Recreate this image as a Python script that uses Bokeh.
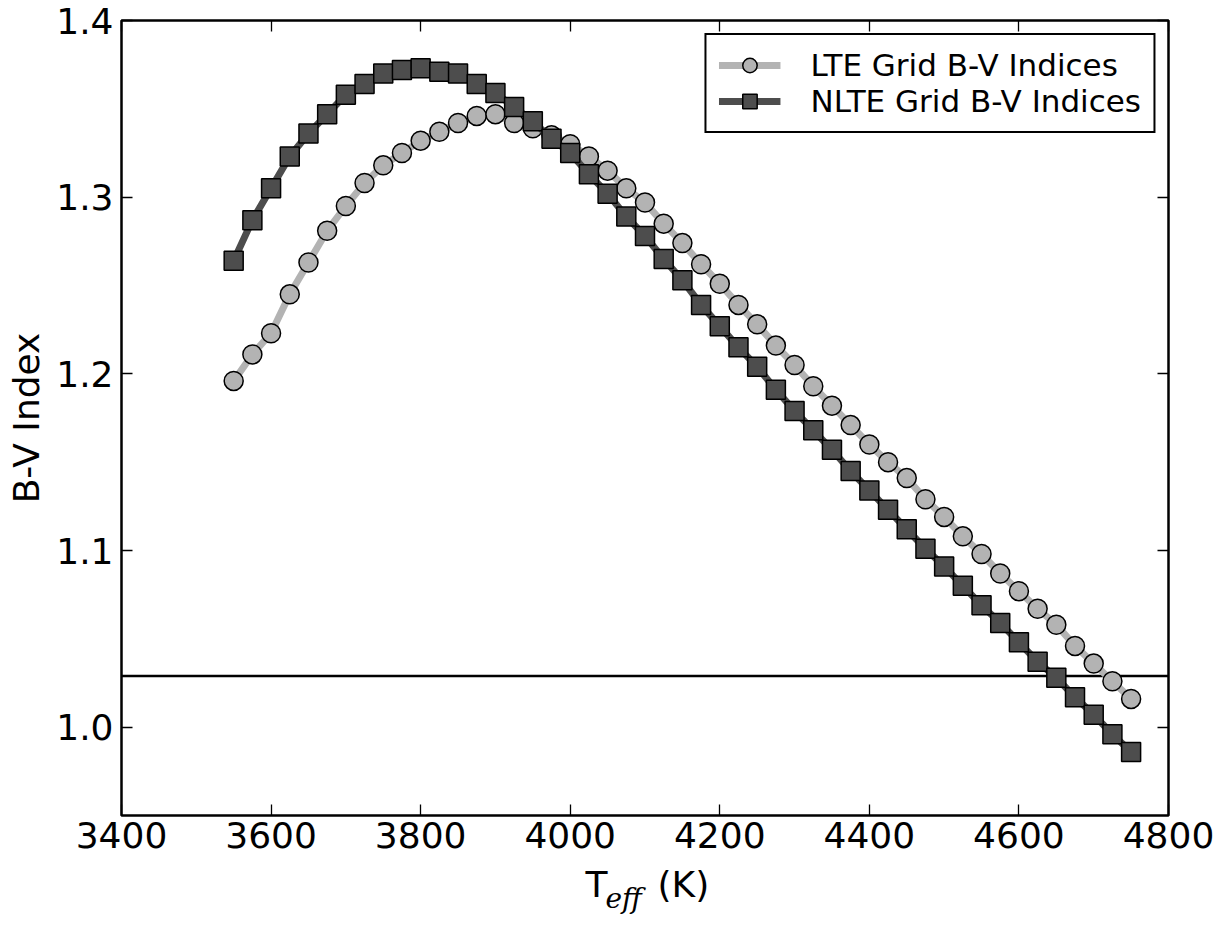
from bokeh.plotting import figure
from bokeh.layouts import column
from bokeh.models import (Range1d, FixedTicker, LinearAxis, Span, Legend, LegendItem,
                          Label, NumeralTickFormatter, CustomLabelingPolicy)
from bokeh.embed import file_html
from bokeh.resources import INLINE

# ---- data ----
teff = [3550, 3575, 3600, 3625, 3650, 3675, 3700, 3725, 3750, 3775,
        3800, 3825, 3850, 3875, 3900, 3925, 3950, 3975, 4000, 4025,
        4050, 4075, 4100, 4125, 4150, 4175, 4200, 4225, 4250, 4275,
        4300, 4325, 4350, 4375, 4400, 4425, 4450, 4475, 4500, 4525,
        4550, 4575, 4600, 4625, 4650, 4675, 4700, 4725, 4750]

lte_bv = [1.196, 1.211, 1.223, 1.245, 1.263, 1.281, 1.295, 1.308, 1.318, 1.325,
          1.332, 1.337, 1.342, 1.346, 1.347, 1.342, 1.339, 1.335, 1.330, 1.323,
          1.315, 1.305, 1.297, 1.285, 1.274, 1.262, 1.251, 1.239, 1.228, 1.216,
          1.205, 1.193, 1.182, 1.171, 1.160, 1.150, 1.141, 1.129, 1.119, 1.108,
          1.098, 1.087, 1.077, 1.067, 1.058, 1.046, 1.036, 1.026, 1.016]

nlte_bv = [1.264, 1.287, 1.305, 1.323, 1.336, 1.347, 1.358, 1.364, 1.370, 1.372,
           1.373, 1.371, 1.370, 1.364, 1.359, 1.351, 1.343, 1.333, 1.325, 1.313,
           1.302, 1.289, 1.278, 1.265, 1.253, 1.239, 1.227, 1.215, 1.204, 1.191,
           1.179, 1.168, 1.157, 1.145, 1.134, 1.123, 1.112, 1.101, 1.091, 1.080,
           1.069, 1.059, 1.048, 1.037, 1.028, 1.017, 1.007, 0.996, 0.986]

reference_bv = 1.029

x_ticks = [3400, 3600, 3800, 4000, 4200, 4400, 4600, 4800]
y_ticks = [1.0, 1.1, 1.2, 1.3, 1.4]

series_labels = ["LTE Grid B-V Indices", "NLTE Grid B-V Indices"]
y_title = "B-V Index"
x_title_parts = ["T", "eff", "(K)"]

# ---- main figure ----
FONT = "DejaVu Sans"
W = 1216
BORDER_L, BORDER_R = 121, 48
STRIP_H = 53
p = figure(width=W, height=916 - STRIP_H, output_backend="svg", toolbar_location=None,
           x_range=Range1d(3400, 4800), y_range=Range1d(0.95, 1.4),
           min_border_left=BORDER_L, min_border_right=BORDER_R, min_border_top=20,
           min_border_bottom=48, background_fill_color="white",
           border_fill_color="white")
p.xgrid.visible = False
p.ygrid.visible = False
p.outline_line_color = "black"
p.outline_line_width = 2.5
p.outline_line_alpha = 1.0

bottom_axis = p.below[0]
left_axis = p.left[0]
bottom_axis.ticker = FixedTicker(ticks=x_ticks)
left_axis.ticker = FixedTicker(ticks=y_ticks)
left_axis.formatter = NumeralTickFormatter(format="0.0")

no_labels = CustomLabelingPolicy(code="return new Set()")
top_axis = LinearAxis(ticker=FixedTicker(ticks=x_ticks), major_label_policy=no_labels)
right_axis = LinearAxis(ticker=FixedTicker(ticks=y_ticks), major_label_policy=no_labels)
p.add_layout(top_axis, "above")
p.add_layout(right_axis, "right")

for ax in [bottom_axis, left_axis, top_axis, right_axis]:
    ax.axis_line_color = None
    ax.major_tick_in = 11
    ax.major_tick_out = 0
    ax.major_tick_line_color = "black"
    ax.major_tick_line_width = 1.3
    ax.minor_tick_line_color = None
    ax.major_label_text_font = FONT
    ax.major_label_text_font_size = "36px"
    ax.major_label_text_color = "black"

for ax in [top_axis, right_axis]:
    ax.major_label_text_font_size = "0px"
    ax.major_label_standoff = 0
    ax.axis_label_standoff = 0

bottom_axis.major_label_standoff = 6
left_axis.major_label_standoff = 8
left_axis.axis_label = y_title
left_axis.axis_label_text_font = FONT
left_axis.axis_label_text_font_size = "36px"
left_axis.axis_label_text_font_style = "normal"
left_axis.axis_label_text_color = "black"
left_axis.axis_label_standoff = 6

# reference line (under the markers)
p.add_layout(Span(location=reference_bv, dimension="width", line_color="black",
                  line_width=2.5, level="underlay"))

# LTE series
l1 = p.line(teff, lte_bv, line_color="#b3b3b3", line_width=7)
s1 = p.scatter(teff, lte_bv, marker="circle", size=19, fill_color="#b3b3b3",
               line_color="black", line_width=1.5)
# NLTE series
l2 = p.line(teff, nlte_bv, line_color="#4d4d4d", line_width=7)
s2 = p.scatter(teff, nlte_bv, marker="square", size=19, fill_color="#4d4d4d",
               line_color="black", line_width=1.5)

legend = Legend(items=[LegendItem(label=series_labels[0], renderers=[l1, s1]),
                       LegendItem(label=series_labels[1], renderers=[l2, s2])],
                location="top_right")
legend.label_text_font = FONT
legend.label_text_font_size = "31px"
legend.label_text_color = "black"
legend.border_line_color = "black"
legend.border_line_width = 2
legend.border_line_alpha = 1.0
legend.background_fill_color = "white"
legend.background_fill_alpha = 1.0
legend.glyph_width = 62
legend.glyph_height = 36
legend.label_height = 36
legend.spacing = 0
legend.padding = 12
legend.label_standoff = 30
legend.margin = 13
p.add_layout(legend)

# ---- x-axis title strip: T_eff (K) with a subscript ----
p2 = figure(width=W, height=STRIP_H, output_backend="svg", toolbar_location=None,
            x_axis_location=None, y_axis_location=None,
            min_border_left=BORDER_L, min_border_right=BORDER_R,
            min_border_top=0, min_border_bottom=0,
            x_range=Range1d(0, 1), y_range=Range1d(0, 1),
            background_fill_color="white", border_fill_color="white")
p2.grid.visible = False
p2.outline_line_color = None
p2.add_layout(Label(x=464, y=STRIP_H, x_units="screen", y_units="screen",
                    text=x_title_parts[0], text_font=FONT, text_font_size="36px",
                    text_color="black", text_align="left", text_baseline="top"))
p2.add_layout(Label(x=484, y=STRIP_H - 18, x_units="screen", y_units="screen",
                    text=x_title_parts[1], text_font="DejaVu Serif",
                    text_font_style="italic", text_font_size="28px",
                    text_color="black", text_align="left", text_baseline="top"))
p2.add_layout(Label(x=536, y=STRIP_H, x_units="screen", y_units="screen",
                    text=x_title_parts[2], text_font=FONT, text_font_size="36px",
                    text_color="black", text_align="left", text_baseline="top"))

layout = column(p, p2, spacing=0)
open("out.html", "w").write(file_html(layout, INLINE))
